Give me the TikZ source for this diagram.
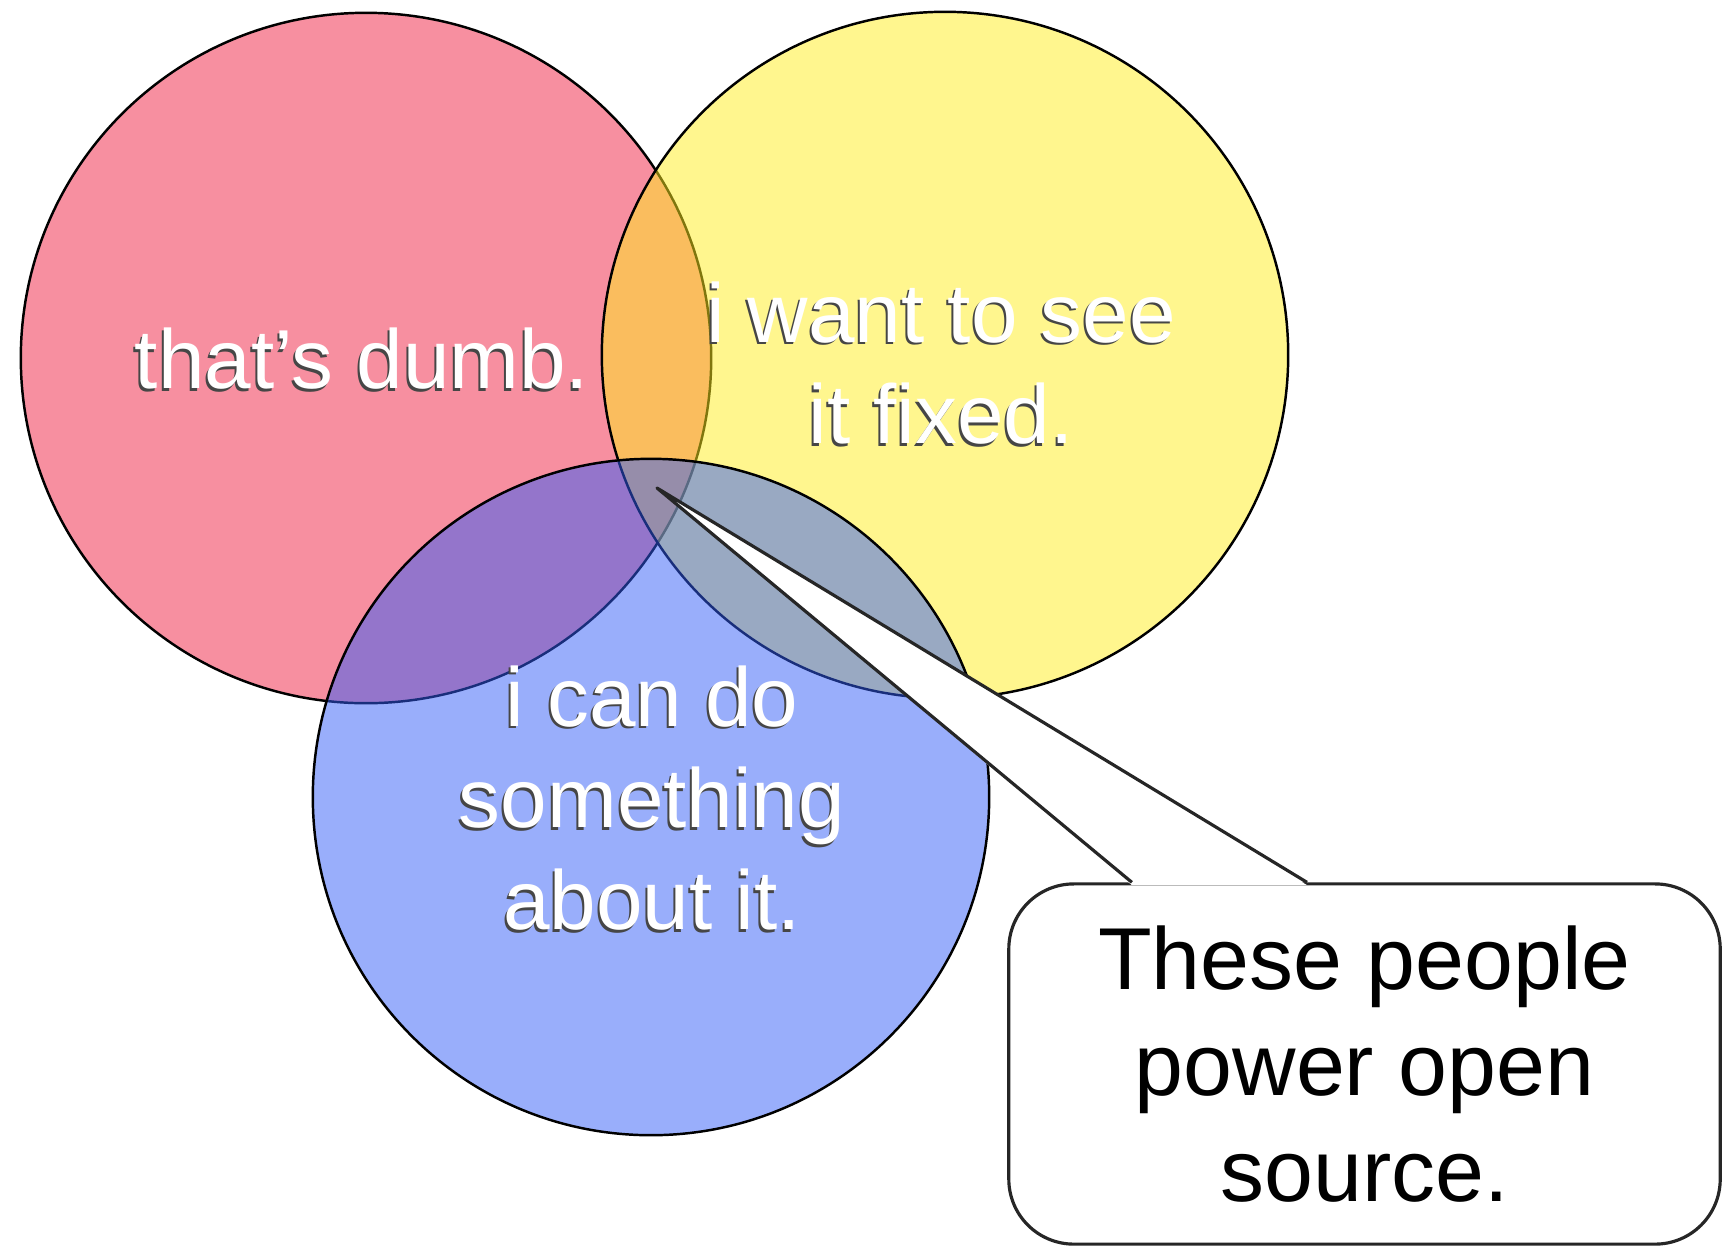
\documentclass[tikz,border=0pt]{standalone}
\usepackage{fontspec}
\setmainfont{Liberation Sans}
\usetikzlibrary{positioning}

\definecolor{dumbred}{RGB}{239,31,65}
\definecolor{wantyellow}{RGB}{255,237,29}
\definecolor{canblue}{RGB}{51,93,247}
\definecolor{shadowgray}{RGB}{70,70,70}

% white letters with a dark shadow to the lower left
\newcommand{\emboss}[1]{\leavevmode\rlap{\raisebox{-0.025cm}[0pt][0pt]{\hspace*{-0.02cm}\textcolor{shadowgray}{#1}}}\textcolor{white}{#1}}

\tikzset{
   set/.style={circle, draw=black, line width=0.7pt, fill opacity=0.5, inner sep=0pt},
   setlabel/.style={inner sep=0pt, align=center, font=\fontsize{23.8}{28.9}\selectfont},
   callout box/.style={draw=black!85, line width=0.9pt, fill=white, rounded corners=0.65cm,
      minimum width=7.11cm, minimum height=3.6cm, align=center,
      font=\fontsize{25}{30.1}\selectfont}
}

\begin{document}
\begin{tikzpicture}[x=0.01cm, y=-0.01cm]
   \useasboundingbox (0,0) rectangle (1722,1251);

   % the three sets
   \node[set, fill=dumbred,    minimum size=6.9cm]  (dumb) at (366,358) {};
   \node[set, fill=wantyellow, minimum size=6.86cm] (want) at (945,355) {};
   \node[set, fill=canblue,    minimum size=6.76cm] (can)  at (651,797) {};

   \node[setlabel] (dumbtext) at (362,359) {\emboss{that’s dumb.}};
   \node[setlabel] (wanttext) at (941,363) {\emboss{i want to see}\\ \emboss{it fixed.}};
   \node[setlabel] (cantext)  at (652,798) {\emboss{i can do}\\ \emboss{something}\\ \emboss{about it.}};

   % speech bubble
   \node[callout box] (note) at (1364.5,1064) {These people\\power open\\source.};
   \coordinate (tip) at (657,488);
   \fill[white] ([xshift=-2.325cm, yshift=-0.8pt]note.north) -- (tip)
      -- ([xshift=-0.575cm, yshift=-0.8pt]note.north) -- cycle;
   \draw[black!85, line width=0.9pt, line join=round]
      ([xshift=-2.325cm]note.north) -- (tip) -- ([xshift=-0.575cm]note.north);
\end{tikzpicture}
\end{document}
